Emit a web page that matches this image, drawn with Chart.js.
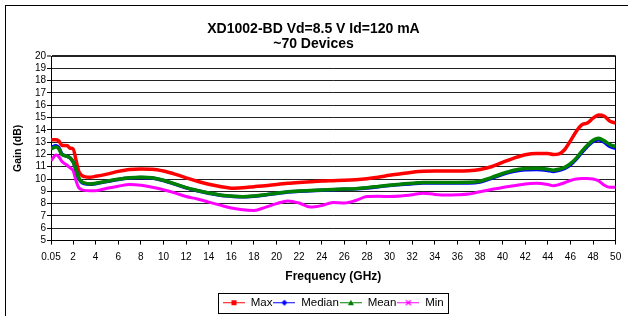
<!DOCTYPE html>
<html>
<head>
<meta charset="utf-8">
<script src="https://cdn.jsdelivr.net/npm/chart.js@4.4.1/dist/chart.umd.min.js"></script>
<style>
  html, body { margin: 0; padding: 0; background: #fff; overflow: hidden; }
  #wrap { position: relative; width: 628px; height: 316px; }
  #frame { position: absolute; left: 5px; top: 5px; width: 700px; height: 400px; border: 1px solid #000; box-sizing: border-box; pointer-events: none; }
  canvas { position: absolute; left: 0; top: 0; }
</style>
</head>
<body>
<div id="wrap">
  <canvas id="c" width="628" height="316"></canvas>
  <div id="frame"></div>
</div>
<script>
const titleLines = ['XD1002-BD Vd=8.5 V Id=120 mA', '~70 Devices'];
const xTitle = 'Frequency (GHz)';
const yTitle = 'Gain (dB)';
const seriesNames = ['Max', 'Median', 'Mean', 'Min'];

const freq = [0.05,0.5,0.75,1,1.5,1.75,2,2.25,2.5,2.75,3,3.5,
  4,5,6,7,8,9,10,11,12,13,14,15,16,17,18,19,20,21,22,23,24,25,26,27,28,29,30,31,32,33,34,35,36,37,38,39,40,41,42,43,44,
  44.5,45,45.5,46,46.5,47,47.5,48,48.5,49,49.5,50];

const maxGain = [13.2,13.2,13.1,12.75,12.7,12.5,12.45,11.6,10.65,10.3,10.2,10.15,
  10.22,10.4,10.62,10.78,10.82,10.8,10.65,10.4,10.1,9.82,9.58,9.4,9.26,9.3,9.38,9.46,9.56,9.65,9.72,9.78,9.84,9.87,9.9,9.95,10.03,10.15,10.3,10.43,10.56,10.64,10.65,10.65,10.65,10.68,10.78,11.0,11.35,11.7,11.98,12.08,12.08,
  12.0,12.05,12.4,13.1,13.85,14.4,14.55,14.95,15.2,15.1,14.7,14.55];

const medianGain = [12.55,12.7,12.55,12.05,11.85,11.7,11.4,10.8,10.05,9.75,9.63,9.57,
  9.62,9.8,9.97,10.08,10.12,10.08,9.88,9.58,9.28,9.05,8.85,8.68,8.6,8.55,8.6,8.7,8.83,8.95,9.0,9.04,9.08,9.12,9.16,9.2,9.27,9.37,9.47,9.55,9.62,9.67,9.67,9.67,9.68,9.68,9.76,10.05,10.38,10.62,10.76,10.78,10.7,
  10.62,10.7,10.86,11.15,11.6,12.15,12.65,13.05,13.2,12.98,12.65,12.5];

const meanGain = [12.45,12.6,12.45,12.0,11.85,11.7,11.4,10.8,10.1,9.8,9.68,9.6,
  9.65,9.82,9.98,10.1,10.14,10.1,9.9,9.6,9.3,9.07,8.87,8.7,8.62,8.57,8.62,8.72,8.85,8.97,9.02,9.06,9.1,9.14,9.18,9.22,9.3,9.4,9.5,9.58,9.66,9.72,9.72,9.72,9.72,9.73,9.82,10.12,10.45,10.72,10.85,10.88,10.8,
  10.72,10.8,10.95,11.25,11.68,12.25,12.75,13.15,13.32,13.1,12.8,12.63];

const minGain = [11.5,11.95,11.8,11.45,11.1,10.9,10.7,9.9,9.3,9.15,9.08,9.05,
  9.05,9.25,9.42,9.55,9.5,9.33,9.13,8.88,8.58,8.38,8.12,7.88,7.65,7.5,7.45,7.7,8.0,8.22,8.05,7.72,7.85,8.1,8.05,8.25,8.58,8.6,8.58,8.62,8.72,8.85,8.75,8.7,8.72,8.78,8.97,9.15,9.32,9.45,9.6,9.65,9.55,
  9.45,9.55,9.7,9.88,10.0,10.05,10.05,10.0,9.85,9.5,9.33,9.33];

const xTickValues = [0.05,2,4,6,8,10,12,14,16,18,20,22,24,26,28,30,32,34,36,38,40,42,44,46,48,50];
const xTickLabels = ['0.05','2','4','6','8','10','12','14','16','18','20','22','24','26','28','30','32','34','36','38','40','42','44','46','48','50'];
const yMin = 5, yMax = 20, yStep = 1;

const colors = ['#FF0000', '#0000FF', '#008000', '#FF00FF'];
const markers = ['square', 'diamond', 'triangle', 'cross'];
const lineWidths = [3.5, 3.5, 3.5, 3];
const drawOrder = [2, 1, 0, 3]; // lower = drawn on top (Mean above Median)

function legendIcon(color, marker) {
  const c = document.createElement('canvas');
  c.width = 22; c.height = 9;
  const g = c.getContext('2d');
  g.strokeStyle = color; g.fillStyle = color; g.lineWidth = 1;
  g.beginPath(); g.moveTo(0, 4.5); g.lineTo(22, 4.5); g.stroke();
  const cx = 11, cy = 4.5;
  g.beginPath();
  if (marker === 'square') { g.fillRect(cx - 2.5, cy - 2.5, 5, 5); }
  else if (marker === 'diamond') { g.moveTo(cx, cy - 3); g.lineTo(cx + 3, cy); g.lineTo(cx, cy + 3); g.lineTo(cx - 3, cy); g.closePath(); g.fill(); }
  else if (marker === 'triangle') { g.moveTo(cx, cy - 3); g.lineTo(cx + 3, cy + 2.5); g.lineTo(cx - 3, cy + 2.5); g.closePath(); g.fill(); }
  else { g.lineWidth = 1.2; g.moveTo(cx - 2.5, cy - 2.5); g.lineTo(cx + 2.5, cy + 2.5); g.moveTo(cx + 2.5, cy - 2.5); g.lineTo(cx - 2.5, cy + 2.5); g.stroke(); }
  return c;
}

const seriesValues = [maxGain, medianGain, meanGain, minGain];
const datasets = seriesNames.map((name, i) => ({
  label: name,
  order: drawOrder[i],
  data: freq.map((f, k) => ({ x: f, y: seriesValues[i][k] })),
  borderColor: colors[i],
  backgroundColor: colors[i],
  borderWidth: lineWidths[i],
  pointRadius: 0,
  pointHoverRadius: 0,
  pointStyle: legendIcon(colors[i], markers[i]),
  cubicInterpolationMode: 'monotone',
  fill: false
}));

const FONT = "'Liberation Sans', Arial, sans-serif";
Chart.defaults.color = '#000';
Chart.defaults.font.family = FONT;

const framePlugin = {
  id: 'framePlugin',
  beforeDatasetsDraw(chart) {
    const { ctx, chartArea: a } = chart;
    ctx.save();
    ctx.strokeStyle = '#000';
    ctx.lineWidth = 1;
    const r = Math.round(a.right) - 0.5;
    ctx.beginPath(); ctx.moveTo(r, a.top); ctx.lineTo(r, a.bottom); ctx.stroke();
    ctx.restore();
  },
  afterDraw(chart) {
    const lg = chart.legend;
    if (!lg || !lg.legendHitBoxes || !lg.legendHitBoxes.length) return;
    const hb = lg.legendHitBoxes;
    let minL = Infinity, maxR = -Infinity;
    hb.forEach(h => { minL = Math.min(minL, h.left); maxR = Math.max(maxR, h.left + h.width); });
    const cy = hb[0].top + hb[0].height / 2;
    const x0 = Math.round(minL - 5) + 0.5;
    const x1 = Math.round(maxR + 4) + 0.5;
    const y0 = Math.round(cy - 10) + 0.5;
    const y1 = Math.round(cy + 10) + 0.5;
    const ctx = chart.ctx;
    ctx.save();
    ctx.strokeStyle = '#000'; ctx.lineWidth = 1;
    ctx.strokeRect(x0, y0, x1 - x0, y1 - y0);
    ctx.restore();
  }
};

new Chart(document.getElementById('c'), {
  type: 'line',
  data: { datasets },
  plugins: [framePlugin],
  options: {
    responsive: false,
    animation: false,
    events: [],
    layout: { padding: { left: 6, right: 7, top: 8, bottom: -2.5 } },
    plugins: {
      title: {
        display: true,
        text: titleLines,
        color: '#000',
        font: { family: FONT, size: 14, weight: 'bold', lineHeight: 1.05 },
        padding: { top: 13.65, bottom: 4.95 }
      },
      legend: {
        display: true,
        position: 'bottom',
        fullSize: false,
        labels: {
          usePointStyle: true,
          pointStyleWidth: 22,
          boxHeight: 9,
          padding: 1,
          color: '#000',
          font: { family: FONT, size: 11.5 },
          sort: (a, b) => seriesNames.indexOf(a.text) - seriesNames.indexOf(b.text)
        }
      },
      tooltip: { enabled: false }
    },
    scales: {
      x: {
        type: 'linear',
        min: 0.05,
        max: 50,
        afterBuildTicks(scale) { scale.ticks = xTickValues.map(v => ({ value: v })); },
        afterFit(scale) { scale.height = 55.45; },
        ticks: {
          autoSkip: false,
          maxRotation: 0,
          minRotation: 0,
          padding: 6.8,
          color: '#000',
          font: { family: FONT, size: 10 },
          callback: (v, i) => xTickLabels[i]
        },
        grid: { drawOnChartArea: false, drawTicks: true, tickLength: 4, tickColor: '#000', tickWidth: 1 },
        border: { display: true, color: '#000', width: 1 },
        title: {
          display: true, text: xTitle, color: '#000',
          font: { family: FONT, size: 12, weight: 'bold', lineHeight: 1.2 },
          padding: { top: 0, bottom: 11.75 }
        }
      },
      y: {
        min: yMin,
        max: yMax,
        afterFit(scale) { scale.width = 45; },
        ticks: { stepSize: yStep, autoSkip: false, padding: 1, color: '#000', font: { family: FONT, size: 10 } },
        grid: {
          color: '#222',
          lineWidth: (c) => (c.tick && c.tick.value === yMax ? 2 : 1),
          drawTicks: true, tickLength: 4, tickColor: '#000', tickWidth: 1
        },
        border: { display: true, color: '#000', width: 1 },
        title: {
          display: true, text: yTitle, color: '#000',
          font: { family: FONT, size: 10.5, weight: 'bold', lineHeight: 1.2 },
          padding: { top: 6, bottom: 0 }
        }
      }
    }
  }
});
</script>
</body>
</html>
